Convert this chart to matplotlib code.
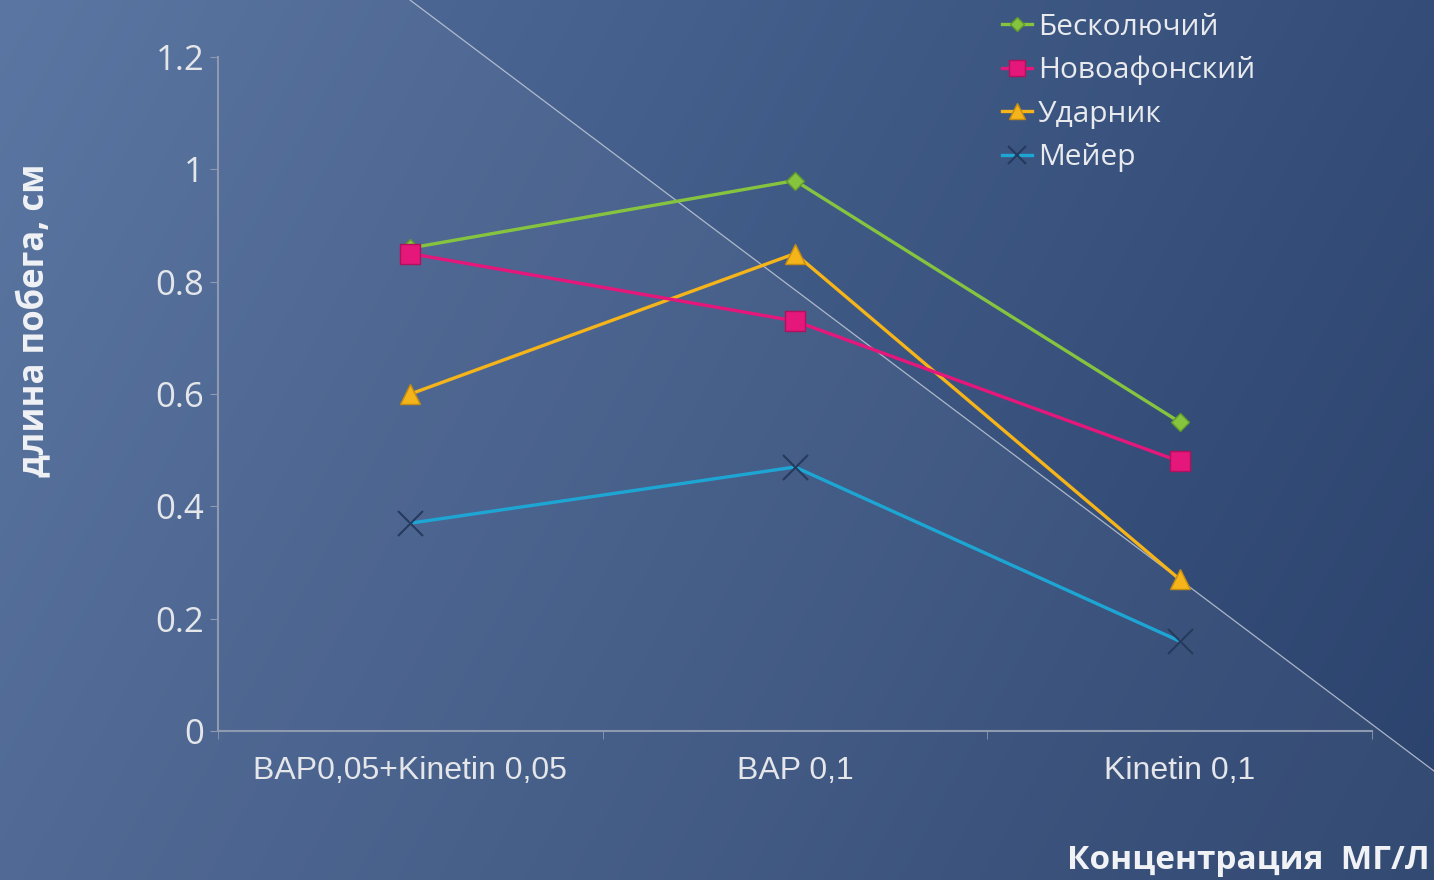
import numpy as np
import matplotlib
matplotlib.use('Agg')
import matplotlib.pyplot as plt
from matplotlib.patches import Polygon
from matplotlib.lines import Line2D

categories = ["BAP0,05+Kinetin 0,05", "BAP 0,1", "Kinetin 0,1"]
beskoluchiy = [0.86, 0.98, 0.55]
novoafonskiy = [0.85, 0.73, 0.48]
udarnik = [0.60, 0.85, 0.27]
meyer = [0.37, 0.47, 0.16]
y_ticks = [0, 0.2, 0.4, 0.6, 0.8, 1, 1.2]
y_tick_labels = ["0", "0.2", "0.4", "0.6", "0.8", "1", "1.2"]

W, H = 1434, 880
fig = plt.figure(figsize=(W / 100, H / 100), dpi=100)

# background gradient
bg = fig.add_axes([0, 0, 1, 1])
bg.set_xlim(0, W)
bg.set_ylim(H, 0)
bg.axis('off')
yy, xx = np.mgrid[0:H, 0:W]
t = (xx / W * 0.75 + yy / H * 0.25)
c0 = np.array([84, 112, 158]) / 255
c1 = np.array([42, 66, 108]) / 255
img = c0[None, None, :] * (1 - t[..., None]) + c1[None, None, :] * t[..., None]
bg.imshow(img, extent=(0, W, H, 0), aspect='auto', zorder=0)
bg.add_patch(Polygon([(0, 0), (410, 0), (1434, 771), (1434, 880), (0, 880)],
                     closed=True, facecolor='white', alpha=0.045, edgecolor='none', zorder=1))
bg.add_line(Line2D([410, 1434], [0, 771], color='#c8d0dc', lw=0.9, alpha=0.8, zorder=2))

ax = fig.add_axes([218 / W, 1 - 731 / H, (1372 - 218) / W, (731 - 57) / H])
ax.patch.set_visible(False)
x = np.arange(len(categories))

ax.plot(x, beskoluchiy, color='#86c440', lw=2.4, marker='D', ms=9,
        mfc='#86c440', mec='#5f9a2a', label='Бесколючий', zorder=3)
ax.plot(x, novoafonskiy, color='#e5177b', lw=2.4, marker='s', ms=15,
        mfc='#e5177b', mec='#b0105c', label='Новоафонский', zorder=4)
ax.plot(x, udarnik, color='#f4b41a', lw=2.4, marker='^', ms=15,
        mfc='#f4b41a', mec='#c48c10', label='Ударник', zorder=3)
ax.plot(x, meyer, color='#1da6d4', lw=2.4, marker='x', ms=18, mew=1.5,
        mec='#253a5c', label='Мейер', zorder=3)

ax.set_xlim(-0.5, 2.5)
ax.set_ylim(0, 1.2)
ax.set_yticks(y_ticks)
ax.set_yticklabels(y_tick_labels, fontsize=25, color='#e4e6ea', family='Open Sans')
ax.set_xticks(x)
ax.set_xticklabels(categories, fontsize=23, color='#e4e6ea', family='Liberation Sans')
ax.set_xticks([-0.5, 0.5, 1.5, 2.5], minor=True)
ax.tick_params(axis='x', which='major', length=0, pad=18)
ax.tick_params(axis='x', which='minor', length=6, color='#8f9ab0', direction='out')
ax.tick_params(axis='y', length=6, color='#8f9ab0', pad=4)
for side in ['top', 'right']:
    ax.spines[side].set_visible(False)
for side in ['left', 'bottom']:
    ax.spines[side].set_color('#8f9ab0')
    ax.spines[side].set_linewidth(1.5)

leg = ax.legend(loc='upper left', bbox_to_anchor=(984 / W, 1.006), bbox_transform=fig.transFigure,
                frameon=False, prop={'family': 'Open Sans', 'size': 21.5}, handlelength=1.0,
                handletextpad=0.2, labelspacing=0.48, markerscale=0.75, borderaxespad=0.2)
for t_ in leg.get_texts():
    t_.set_color('#e8eaee')

fig.text(35 / W, 1 - 320 / H, "длина побега, см", rotation=90, ha='center', va='center',
         fontsize=25, fontweight='bold', color='#f0f2f5', family='Open Sans')
fig.text(1430 / W, 1 - 860 / H, "Концентрация  МГ/Л", ha='right', va='center',
         fontsize=24, fontweight='bold', color='#f0f2f5', family='Open Sans')

fig.savefig('out.png', dpi=100)
